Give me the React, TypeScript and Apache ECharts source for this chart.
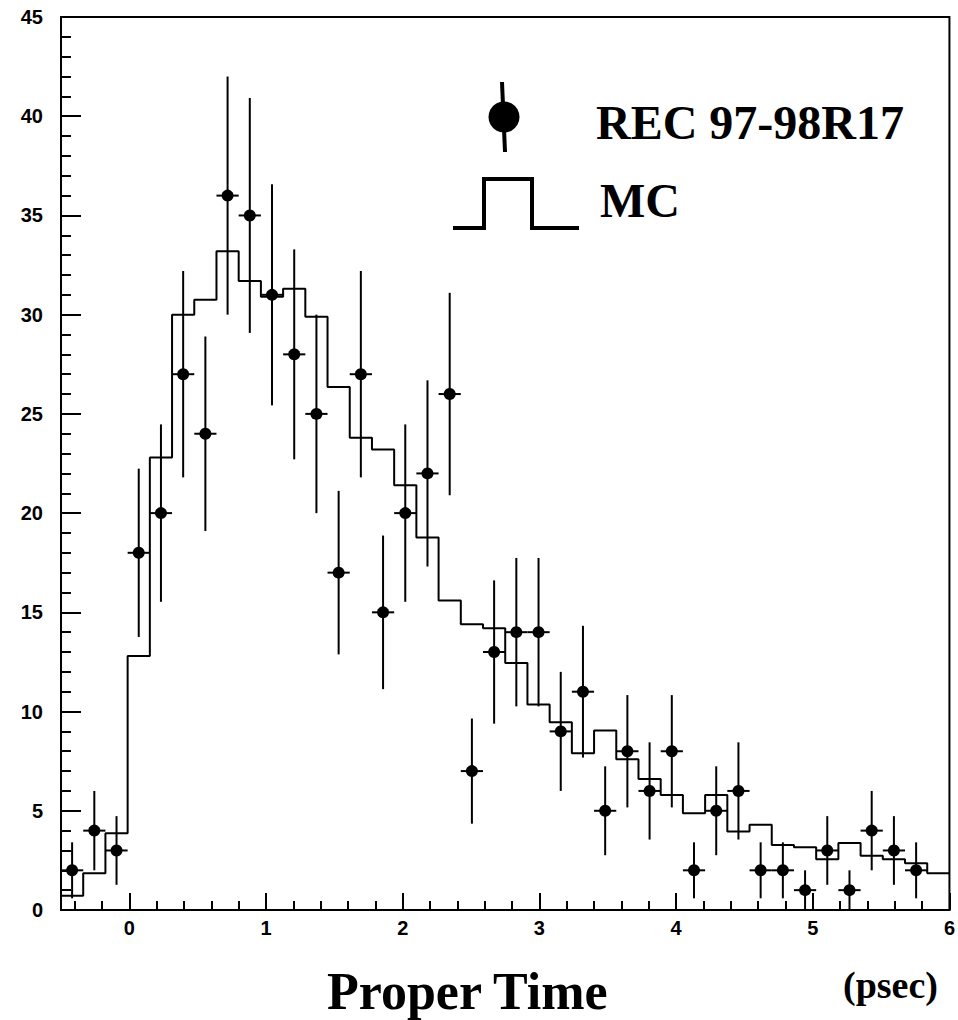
import React, { useEffect, useRef } from "react";
import * as echarts from "echarts";

// Bin edges of the proper-time histogram (psec)
const binEdges = [
  -0.5, -0.3375, -0.175, -0.0125, 0.15, 0.3125, 0.475, 0.6375, 0.8, 0.9625,
  1.125, 1.2875, 1.45, 1.6125, 1.775, 1.9375, 2.1, 2.2625, 2.425, 2.5875,
  2.75, 2.9125, 3.075, 3.2375, 3.4, 3.5625, 3.725, 3.8875, 4.05, 4.2125,
  4.375, 4.5375, 4.7, 4.8625, 5.025, 5.1875, 5.35, 5.5125, 5.675, 5.8375, 6.0,
];

// Monte Carlo histogram contents (one per bin)
const mcValues = [
  0.72, 1.85, 3.87, 12.8, 22.8, 30.0, 30.75, 33.2, 31.7, 30.9,
  31.3, 29.9, 26.35, 23.8, 23.2, 21.4, 18.77, 15.6, 14.4, 14.2,
  12.45, 10.35, 9.46, 7.9, 9.04, 7.6, 6.6, 5.8, 4.88, 5.8,
  3.96, 4.3, 3.28, 3.16, 2.56, 3.37, 2.73, 2.56, 2.36, 1.85,
];

// REC 97-98R17 data counts (bins 0..38; last bin empty)
const recCounts = [
  2, 4, 3, 18, 20, 27, 24, 36, 35, 31,
  28, 25, 17, 27, 15, 20, 22, 26, 7, 13,
  14, 14, 9, 11, 5, 8, 6, 8, 2, 5,
  6, 2, 2, 1, 3, 1, 4, 3, 2,
];

// Statistical errors of the data points
const recErrors = [
  1.41, 2, 1.73, 4.24, 4.47, 5.2, 4.9, 6, 5.92, 5.57,
  5.29, 5, 4.12, 5.2, 3.87, 4.47, 4.69, 5.1, 2.65, 3.61,
  3.74, 3.74, 3, 3.32, 2.24, 2.83, 2.45, 2.83, 1.41, 2.24,
  2.45, 1.41, 1.41, 1, 1.73, 1, 2, 1.73, 1.41,
];

const xMajorTicks = [0, 1, 2, 3, 4, 5, 6];
const xMinorTicks = [
  -0.4, -0.2, 0.2, 0.4, 0.6, 0.8, 1.2, 1.4, 1.6, 1.8, 2.2, 2.4, 2.6, 2.8,
  3.2, 3.4, 3.6, 3.8, 4.2, 4.4, 4.6, 4.8, 5.2, 5.4, 5.6, 5.8,
];

const labelFont = { fontFamily: "'Liberation Sans', Arial, sans-serif", fontWeight: "bold" as const, fontSize: 20, color: "#000" };
const serif = "'Liberation Serif', 'Times New Roman', serif";

export default function App() {
  const ref = useRef<HTMLDivElement>(null);
  useEffect(() => {
    if (!ref.current) return;
    const chart = echarts.init(ref.current, null, { renderer: "svg" });

    const mcData = binEdges.map((e, i) => [e, mcValues[Math.min(i, mcValues.length - 1)]]);
    const recData = recCounts.map((c, i) => {
      const lo = binEdges[i];
      const hi = binEdges[i + 1];
      return [(lo + hi) / 2, c, recErrors[i], (hi - lo) / 2];
    });

    chart.setOption({
      animation: false,
      backgroundColor: "#fff",
      grid: { left: 61, right: 6, top: 17, bottom: 110, show: true, borderColor: "#000", borderWidth: 2, backgroundColor: "transparent" },
      xAxis: [
        {
          type: "value", min: -0.5, max: 6, position: "bottom",
          axisLine: { show: true, onZero: false, lineStyle: { color: "#000", width: 2 } },
          axisTick: { show: true, inside: true, length: 17, customValues: xMajorTicks, lineStyle: { color: "#000", width: 2 } },
          axisLabel: { show: true, customValues: xMajorTicks, margin: 8, ...labelFont },
          splitLine: { show: false },
        },
        {
          type: "value", min: -0.5, max: 6, position: "bottom", gridIndex: 0,
          axisLine: { show: false, onZero: false },
          axisTick: { show: true, inside: true, length: 9, customValues: xMinorTicks, lineStyle: { color: "#000", width: 2 } },
          axisLabel: { show: false },
          splitLine: { show: false },
        },
      ],
      yAxis: {
        type: "value", min: 0, max: 45, interval: 5,
        axisLine: { show: true, onZero: false, lineStyle: { color: "#000", width: 2 } },
        axisTick: { show: true, inside: true, length: 20, lineStyle: { color: "#000", width: 2 } },
        minorTick: { show: true, splitNumber: 5, length: 10, lineStyle: { color: "#000", width: 2 } },
        axisLabel: { margin: 18, ...labelFont },
        splitLine: { show: false },
        minorSplitLine: { show: false },
      },
      series: [
        {
          name: "MC", type: "line", step: "end", data: mcData, symbol: "none",
          lineStyle: { color: "#000", width: 2 }, silent: true,
        },
        {
          name: "REC 97-98R17", type: "custom", data: recData, silent: true,
          renderItem: (params: any, api: any) => {
            const x = api.value(0), y = api.value(1), e = api.value(2), hw = api.value(3);
            const p = api.coord([x, y]);
            const top = api.coord([x, y + e]);
            const bot = api.coord([x, Math.max(0, y - e)]);
            const l = api.coord([x - hw, y]);
            const r = api.coord([x + hw, y]);
            const st = { stroke: "#000", lineWidth: 2 };
            return {
              type: "group",
              children: [
                { type: "line", shape: { x1: p[0], y1: top[1], x2: p[0], y2: bot[1] }, style: st },
                { type: "line", shape: { x1: l[0], y1: p[1], x2: r[0], y2: p[1] }, style: st },
                { type: "circle", shape: { cx: p[0], cy: p[1], r: 6 }, style: { fill: "#000" } },
              ],
            };
          },
        },
      ],
      graphic: [
        { type: "line", shape: { x1: 502, y1: 82, x2: 505, y2: 152 }, style: { stroke: "#000", lineWidth: 4 } },
        { type: "circle", shape: { cx: 504, cy: 117, r: 15.5 }, style: { fill: "#000" } },
        {
          type: "polyline",
          shape: { points: [[453, 228], [484, 228], [484, 179], [532, 179], [532, 228], [579, 228]] },
          style: { stroke: "#000", lineWidth: 4, fill: null },
        },
        { type: "text", x: 596, y: 122, style: { text: "REC 97-98R17", font: `bold 48px ${serif}`, fill: "#000", verticalAlign: "middle", align: "left" } },
        { type: "text", x: 600, y: 200, style: { text: "MC", font: `bold 48px ${serif}`, fill: "#000", verticalAlign: "middle", align: "left" } },
        { type: "text", x: 327, y: 991, style: { text: "Proper Time", font: `bold 52px ${serif}`, fill: "#000", verticalAlign: "middle", align: "left" } },
        { type: "text", x: 843, y: 985, style: { text: "(psec)", font: `bold 38px ${serif}`, fill: "#000", verticalAlign: "middle", align: "left" } },
      ],
    });
    return () => chart.dispose();
  }, []);
  return <div ref={ref} style={{ position: "absolute", left: 0, top: 0, width: 958, height: 1020 }} />;
}
